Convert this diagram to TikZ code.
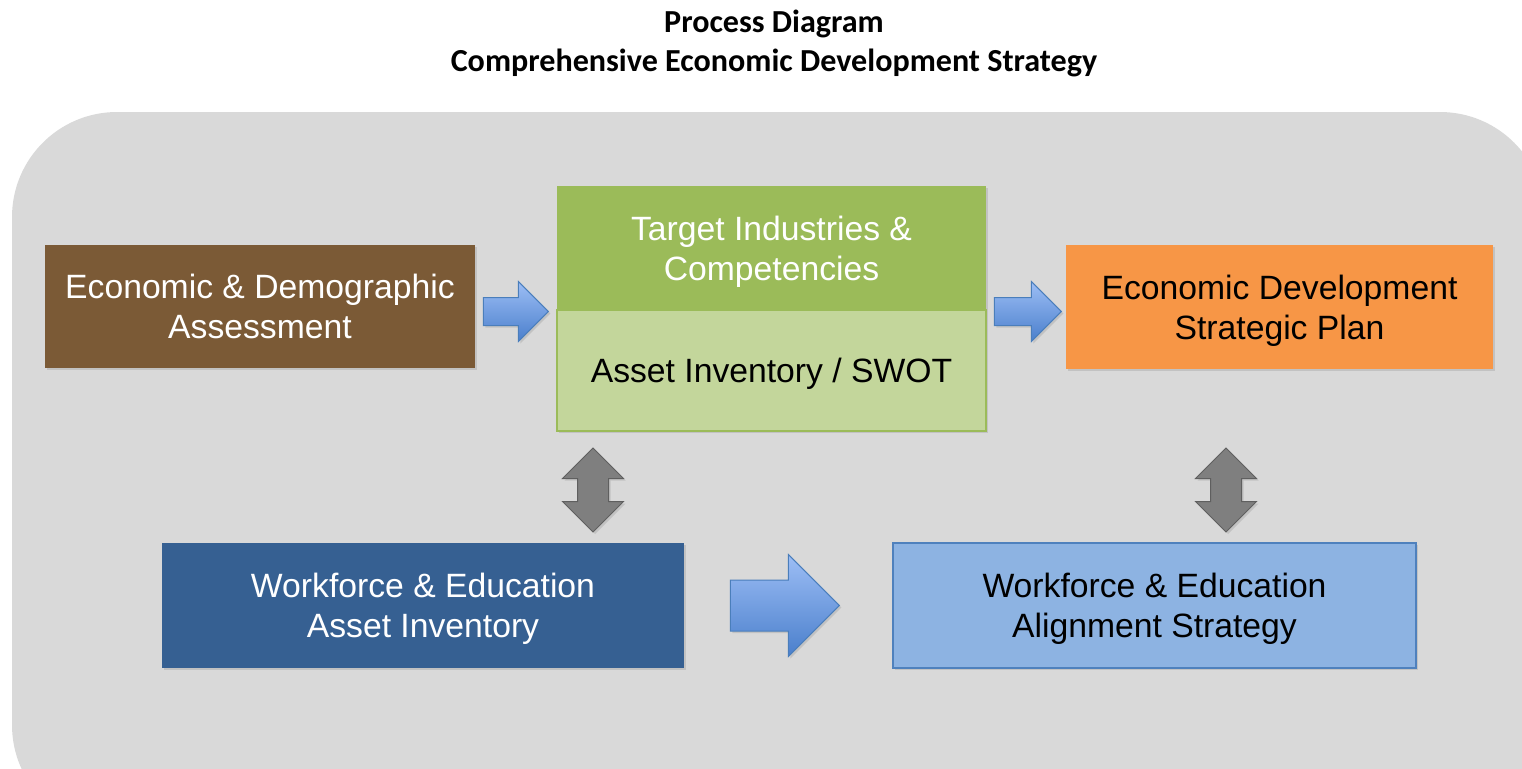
\documentclass[tikz,border=0pt]{standalone}
\usepackage{fontspec}
\setmainfont{Liberation Sans}
\newfontfamily\titlefont{Carlito}
\usetikzlibrary{shapes.arrows,shadows}
\definecolor{bggray}{HTML}{D9D9D9}
\definecolor{econbrown}{HTML}{7B5A36}
\definecolor{targetgreen}{HTML}{9BBB59}
\definecolor{swotgreen}{HTML}{C3D69B}
\definecolor{planorange}{HTML}{F79646}
\definecolor{wfdark}{HTML}{366092}
\definecolor{wflight}{HTML}{8DB3E2}
\definecolor{wfedge}{HTML}{4F81BD}
\definecolor{arrowtop}{HTML}{9DBEF5}
\definecolor{arrowbot}{HTML}{4A7FCC}
\definecolor{arrowedge}{HTML}{4A7EBB}
\definecolor{swapgray}{HTML}{7F7F7F}
\definecolor{swapedge}{HTML}{5F5F5F}
\tikzset{
  stagebox/.style={inner sep=0pt, align=center, font=\fontsize{33.7}{40}\selectfont, text depth=0pt,
    drop shadow={opacity=0.25, shadow xshift=2pt, shadow yshift=-2pt}},
  darkbox/.style={stagebox, text=white},
  lightbox/.style={stagebox, text=black, line width=1.2pt},
  flowarrow/.style={single arrow, single arrow head extend=#1, inner xsep=0pt, anchor=tip,
    top color=arrowtop, bottom color=arrowbot, draw=arrowedge, line width=1pt,
    drop shadow={opacity=0.25, shadow xshift=2pt, shadow yshift=-2pt}},
  swaparrow/.style={double arrow, double arrow head extend=15pt, shape border rotate=90,
    inner ysep=0pt, inner xsep=15pt, minimum height=84pt, minimum width=60pt,
    fill=swapgray, draw=swapedge, line width=1pt,
    drop shadow={opacity=0.25, shadow xshift=2pt, shadow yshift=-2pt}}
}
\begin{document}
\begin{tikzpicture}[x=1pt, y=-1pt]
  \useasboundingbox (0,0) rectangle (1522,768);
  \clip (0,0) rectangle (1522,768);
  % backdrop
  \fill[bggray, rounded corners=105pt] (12,112) rectangle (1545,830);
  % title
  \node (title) at (774,43) [align=center, font=\titlefont\bfseries\fontsize{32.1}{39}\selectfont]
    {Process Diagram\\Comprehensive Economic Development Strategy};
  % stages
  \node[darkbox, fill=econbrown, minimum width=430pt, minimum height=123pt] (econ) at (260,306.5)
    {Economic \& Demographic\\Assessment};
  \node[darkbox, fill=targetgreen, minimum width=429pt, minimum height=124pt] (target) at (771.5,248)
    {Target Industries \&\\Competencies};
  \node[lightbox, fill=swotgreen, draw=targetgreen, minimum width=429pt, minimum height=121pt] (swot) at (771.5,370.5)
    {Asset Inventory / SWOT};
  \node[stagebox, fill=planorange, text=black, minimum width=427pt, minimum height=124pt] (plan) at (1279.5,307)
    {Economic Development\\Strategic Plan};
  \node[darkbox, fill=wfdark, minimum width=522pt, minimum height=125pt] (wfinv) at (423,605.5)
    {Workforce \& Education\\Asset Inventory};
  \node[lightbox, fill=wflight, draw=wfedge, minimum width=523pt, minimum height=125pt] (wfalign) at (1154.5,605.5)
    {Workforce \& Education\\Alignment Strategy};
  % arrows
  \node[flowarrow=16pt, inner ysep=13.5pt, minimum height=65pt, minimum width=59pt] (toswot) at (549,311.5) {};
  \node[flowarrow=16pt, inner ysep=13.5pt, minimum height=67pt, minimum width=59pt] (toplan) at (1062,311.5) {};
  \node[flowarrow=25.5pt, inner ysep=25pt, minimum height=109pt, minimum width=101pt] (toalign) at (840,605.5) {};
  \node[swaparrow] (swapleft) at (593,490) {};
  \node[swaparrow] (swapright) at (1226,490) {};
\end{tikzpicture}
\end{document}
